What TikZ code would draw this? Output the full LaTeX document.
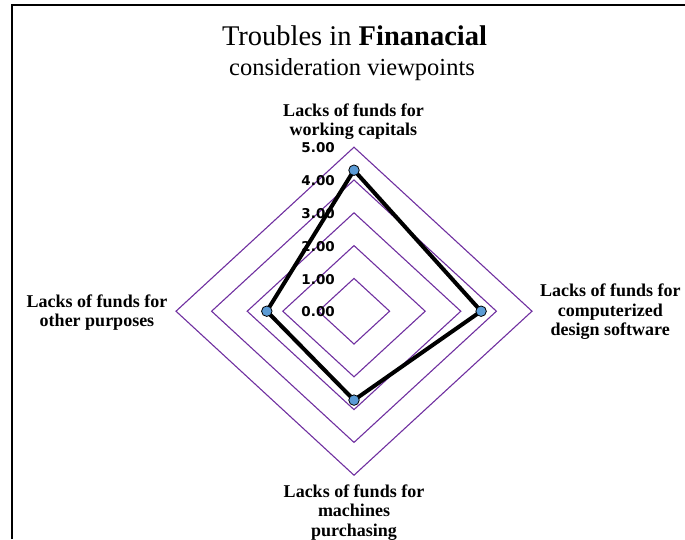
\documentclass[tikz,border=0pt]{standalone}
\usepackage{fontspec}
\usetikzlibrary{calc}
\setmainfont{Liberation Serif}
\newfontfamily\axisfont{DejaVu Sans}
\definecolor{gridpurple}{RGB}{112,48,160}
\definecolor{markblue}{RGB}{91,155,213}
\begin{document}
\begin{tikzpicture}[x=1pt,y=-1pt,
  gridline/.style={draw=gridpurple,line width=1.1pt},
  series/.style={draw=black,line width=4pt,line join=miter},
  marker/.style={circle,draw=black,line width=0.8pt,fill=markblue,minimum size=10.5pt,inner sep=0pt},
  ticklabel/.style={anchor=east,inner sep=0pt,font=\axisfont\bfseries\fontsize{13.5}{15}\selectfont},
  catlabel/.style={align=center,inner sep=0pt,font=\bfseries\fontsize{18}{19.5}\selectfont},
  titlelabel/.style={inner sep=0pt},
  frameline/.style={draw=black,line width=1.4pt}]
\useasboundingbox (0,0) rectangle (685,539);
% frame
\draw[frameline] (12,539) -- (12,5) -- (685,5);
% title
\node[titlelabel,font=\fontsize{28.5}{33}\selectfont] (title1) at (354.5,36) {Troubles in \textbf{Finanacial}};
\node[titlelabel,font=\fontsize{24.5}{30}\selectfont] (title2) at (352,70) {consideration viewpoints};
% centre
\coordinate (C) at (354,311.2);
% grid diamonds
\foreach \k in {1,...,5}{
  \draw[gridline] ($(C)+(0,-32.8*\k)$) -- ($(C)+(35.6*\k,0)$) -- ($(C)+(0,32.8*\k)$) -- ($(C)+(-35.6*\k,0)$) -- cycle;
}
% tick labels
\foreach \k/\t in {0/0.00,1/1.00,2/2.00,3/3.00,4/4.00,5/5.00}{
  \node[ticklabel] (tick\k) at (335,312-32.8*\k) {\t};
}
% category labels
\node[catlabel] (ctop) at (353.5,121.5) {Lacks of funds for\\working capitals};
\node[catlabel] (cright) at (610.3,312) {Lacks of funds for\\computerized\\design software};
\node[catlabel] (cbottom) at (354,512.5) {Lacks of funds for\\machines\\purchasing};
\node[catlabel] (cleft) at (97,312.7) {Lacks of funds for\\other purposes};
% data
\coordinate (d1) at (354,170.2);
\coordinate (d2) at (481.1,311.2);
\coordinate (d3) at (354,400.1);
\coordinate (d4) at (266.8,311.2);
\draw[series] (d1) -- (d2) -- (d3) -- (d4) -- cycle;
\node[marker] (m1) at (d1) {};
\node[marker] (m2) at (d2) {};
\node[marker] (m3) at (d3) {};
\node[marker] (m4) at (d4) {};
\end{tikzpicture}
\end{document}
